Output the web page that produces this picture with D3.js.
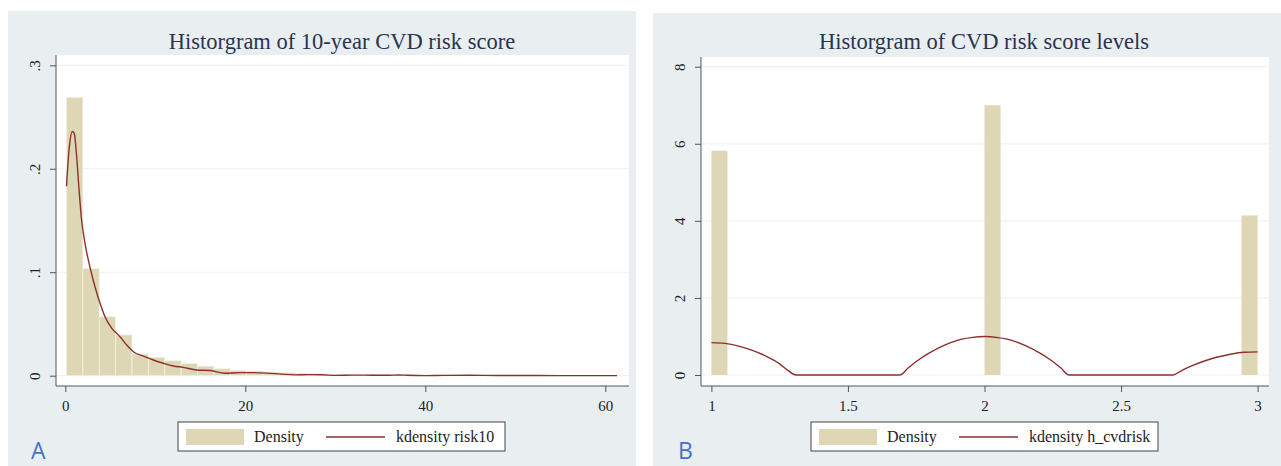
<!DOCTYPE html>
<html>
<head>
<meta charset="utf-8">
<script src="https://cdn.jsdelivr.net/npm/d3@7"></script>
<style>
  body { margin: 0; background: #fff; }
  svg text { font-family: "Liberation Serif", "DejaVu Serif", serif; }
  svg text.letter { font-family: "Open Sans", "DejaVu Sans", sans-serif; }
</style>
</head>
<body>
<div id="chart"></div>
<script>
// panel A: histogram of 10-year risk score (density) + kernel density
const riskBinStart = 0.13, riskBinWidth = 1.82;
const riskDensity = [0.269, 0.1037, 0.057, 0.0394, 0.021, 0.0178, 0.0145, 0.0118, 0.0092, 0.0068,
    0.0052, 0.0045, 0.0035, 0.0028, 0.0022, 0.0018, 0.0012, 0.0010, 0.0008, 0.0006,
    0.0006, 0.0004, 0.0004, 0.0003, 0.0002, 0.0002, 0.0002, 0.0001, 0.0001, 0.0001,
    0.0001, 0.0001, 0.0001, 0.0001];
const riskKdeX = [0.13, 0.45, 0.78, 1.0, 1.26, 1.56, 1.82, 2.19, 2.74, 3.3, 3.86, 4.41, 5.15, 6.08, 6.82,
    7.74, 8.67, 9.78, 10.9, 12.0, 13.1, 14.6, 16.1, 17.7, 19.4, 20.9, 22.5, 24, 25.5, 27, 28.5, 30,
    32, 34, 36, 37, 38, 40, 42, 45, 48, 50, 55, 58, 61.3];
const riskKdeY = [0.183, 0.221, 0.236, 0.234, 0.212, 0.176, 0.150, 0.128, 0.105, 0.086, 0.070, 0.057,
    0.046, 0.0377, 0.0297, 0.0222, 0.019, 0.0152, 0.012, 0.0094, 0.0081, 0.0055, 0.0050, 0.0023,
    0.003, 0.003, 0.0025, 0.0015, 0.0008, 0.001, 0.0009, 0.0003, 0.0006, 0.0005, 0.0004, 0.0007,
    0.0004, 0.0001, 0.0003, 0.0004, 0.0002, 0.0002, 0.0001, 0.0001, 0.0001];
const riskXTicks = [0, 20, 40, 60];
const riskYTicks = [0, 0.1, 0.2, 0.3];
const riskYLabels = ["0", ".1", ".2", ".3"];

// panel B: histogram of risk levels (1, 2, 3)
const levelBinStart = [1, 2, 2.9412];
const levelBinWidth = 0.0588;
const levelDensity = [5.82, 7.0, 4.14];
const levelKdeX = [1.0, 1.05, 1.1, 1.15, 1.2, 1.25, 1.28, 1.31, 1.5, 1.69, 1.72, 1.75, 1.8, 1.85, 1.9,
    1.95, 2.0, 2.05, 2.1, 2.15, 2.2, 2.25, 2.28, 2.31, 2.5, 2.69, 2.72, 2.75, 2.8, 2.85, 2.9, 2.95, 3.0];
const levelKdeY = [0.84, 0.82, 0.75, 0.64, 0.49, 0.29, 0.12, 0, 0, 0, 0.18, 0.35, 0.58, 0.76, 0.90,
    0.97, 1.0, 0.97, 0.90, 0.76, 0.58, 0.35, 0.18, 0, 0, 0, 0.11, 0.21, 0.35, 0.46, 0.54, 0.59, 0.60];
const levelXTicks = [1, 1.5, 2, 2.5, 3];
const levelXLabels = ["1", "1.5", "2", "2.5", "3"];
const levelYTicks = [0, 2, 4, 6, 8];

const W = 1281, H = 466;
const barColor = "#ded7b5", lineColor = "#8e2f2f", panelBg = "#e9eef1";

const svg = d3.select("#chart").append("svg")
    .attr("width", W).attr("height", H);

function panel(cfg) {
    const g = svg.append("g");
    g.append("rect")
        .attr("x", cfg.box[0]).attr("y", cfg.box[1])
        .attr("width", cfg.box[2] - cfg.box[0]).attr("height", cfg.box[3] - cfg.box[1])
        .attr("fill", panelBg);

    const x = d3.scaleLinear().domain(cfg.xDomain).range(cfg.xRange);
    const y = d3.scaleLinear().domain(cfg.yDomain).range(cfg.yRange);
    const p = cfg.plot; // [left, top, right, bottom]

    g.append("rect")
        .attr("x", p[0]).attr("y", p[1])
        .attr("width", p[2] - p[0]).attr("height", p[3] - p[1])
        .attr("fill", "#fff");

    // grid
    g.selectAll(".grid").data(cfg.yTicks).enter().append("line")
        .attr("x1", p[0]).attr("x2", p[2])
        .attr("y1", d => y(d)).attr("y2", d => y(d))
        .attr("stroke", "#eef1f3").attr("stroke-width", 1.2);

    // bars
    g.selectAll(".bar").data(cfg.bars).enter().append("rect")
        .attr("x", d => x(d.x0))
        .attr("y", d => y(d.v))
        .attr("width", d => x(d.x1) - x(d.x0))
        .attr("height", d => y(0) - y(d.v))
        .attr("fill", barColor)
        .attr("stroke", cfg.barStroke ? "#f4f1e6" : "none")
        .attr("stroke-width", 0.8);

    // kde line
    const line = d3.line().x(d => x(d[0])).y(d => y(d[1])).curve(d3.curveMonotoneX);
    g.append("path")
        .datum(cfg.kde)
        .attr("d", line)
        .attr("fill", "none")
        .attr("stroke", lineColor)
        .attr("stroke-width", 1.4);

    // axes
    const xAxis = d3.axisBottom(x).tickValues(cfg.xTicks).tickSize(6).tickFormat((d, i) => cfg.xLabels[i]);
    const gx = g.append("g").attr("transform", `translate(0,${p[3]})`).call(xAxis);
    gx.select(".domain").attr("d", `M${p[0]},0H${p[2]}`).attr("stroke", "#555");
    gx.selectAll(".tick line").attr("stroke", "#555");
    gx.selectAll(".tick text").attr("y", 14).attr("font-size", 15)
        .attr("fill", "#222");

    const yAxis = d3.axisLeft(y).tickValues(cfg.yTicks).tickSize(6).tickFormat((d, i) => cfg.yLabels[i]);
    const gy = g.append("g").attr("transform", `translate(${p[0]},0)`).call(yAxis);
    gy.select(".domain").attr("d", `M0,${p[1]}V${p[3]}`).attr("stroke", "#555");
    gy.selectAll(".tick line").attr("stroke", "#555");
    gy.selectAll(".tick text")
        .attr("x", null).attr("dy", null)
        .attr("text-anchor", "middle")
        .attr("transform", "translate(-16,0) rotate(-90)")
        .attr("font-size", 15).attr("fill", "#222");

    // title
    g.append("text")
        .attr("x", cfg.titleX).attr("y", 49)
        .attr("text-anchor", "middle")
        .attr("font-size", 22.5).attr("fill", "#2a3450")
        .text(cfg.title);

    // legend
    const L = cfg.legend;
    g.append("rect")
        .attr("x", L.x).attr("y", 422).attr("width", L.w).attr("height", 29)
        .attr("fill", "#fff").attr("stroke", "#444").attr("stroke-width", 1);
    g.append("rect")
        .attr("x", L.x + 8).attr("y", 429).attr("width", 58).attr("height", 16)
        .attr("fill", barColor);
    g.append("text").attr("x", L.x + 76).attr("y", 442)
        .attr("font-size", 16).attr("fill", "#222").text("Density");
    g.append("line")
        .attr("x1", L.x + 148).attr("x2", L.x + 207).attr("y1", 437).attr("y2", 437)
        .attr("stroke", lineColor).attr("stroke-width", 1.4);
    g.append("text").attr("x", L.x + 218).attr("y", 442)
        .attr("font-size", 16).attr("fill", "#222").text(L.label);

    // panel letter
    g.append("text")
        .attr("class", "letter")
        .attr("x", cfg.letterX).attr("y", 459)
        .attr("font-size", 23).attr("fill", "#4472c4")
        .text(cfg.letter);
}

panel({
    box: [8, 11, 636, 466],
    plot: [56, 55, 629, 386],
    xDomain: [0, 60], xRange: [65.3, 605.3],
    yDomain: [0, 0.3], yRange: [375.7, 65.3],
    xTicks: riskXTicks, xLabels: riskXTicks.map(String),
    yTicks: riskYTicks, yLabels: riskYLabels,
    bars: riskDensity.map((v, i) => ({
        x0: riskBinStart + i * riskBinWidth,
        x1: riskBinStart + (i + 1) * riskBinWidth, v: v })),
    barStroke: true,
    kde: riskKdeX.map((d, i) => [d, riskKdeY[i]]),
    title: "Historgram of 10-year CVD risk score",
    titleX: 342,
    legend: { x: 178, w: 327, label: "kdensity risk10" },
    letter: "A", letterX: 31
});

panel({
    box: [653, 13, 1281, 466],
    plot: [701, 57, 1269, 386],
    xDomain: [1, 3], xRange: [711.4, 1257.6],
    yDomain: [0, 8], yRange: [375, 66.7],
    xTicks: levelXTicks, xLabels: levelXLabels,
    yTicks: levelYTicks, yLabels: levelYTicks.map(String),
    bars: levelDensity.map((v, i) => ({
        x0: levelBinStart[i], x1: levelBinStart[i] + levelBinWidth, v: v })),
    barStroke: false,
    kde: levelKdeX.map((d, i) => [d, levelKdeY[i]]),
    title: "Historgram of CVD risk score levels",
    titleX: 984,
    legend: { x: 811, w: 347, label: "kdensity h_cvdrisk" },
    letter: "B", letterX: 678
});
</script>
</body>
</html>
